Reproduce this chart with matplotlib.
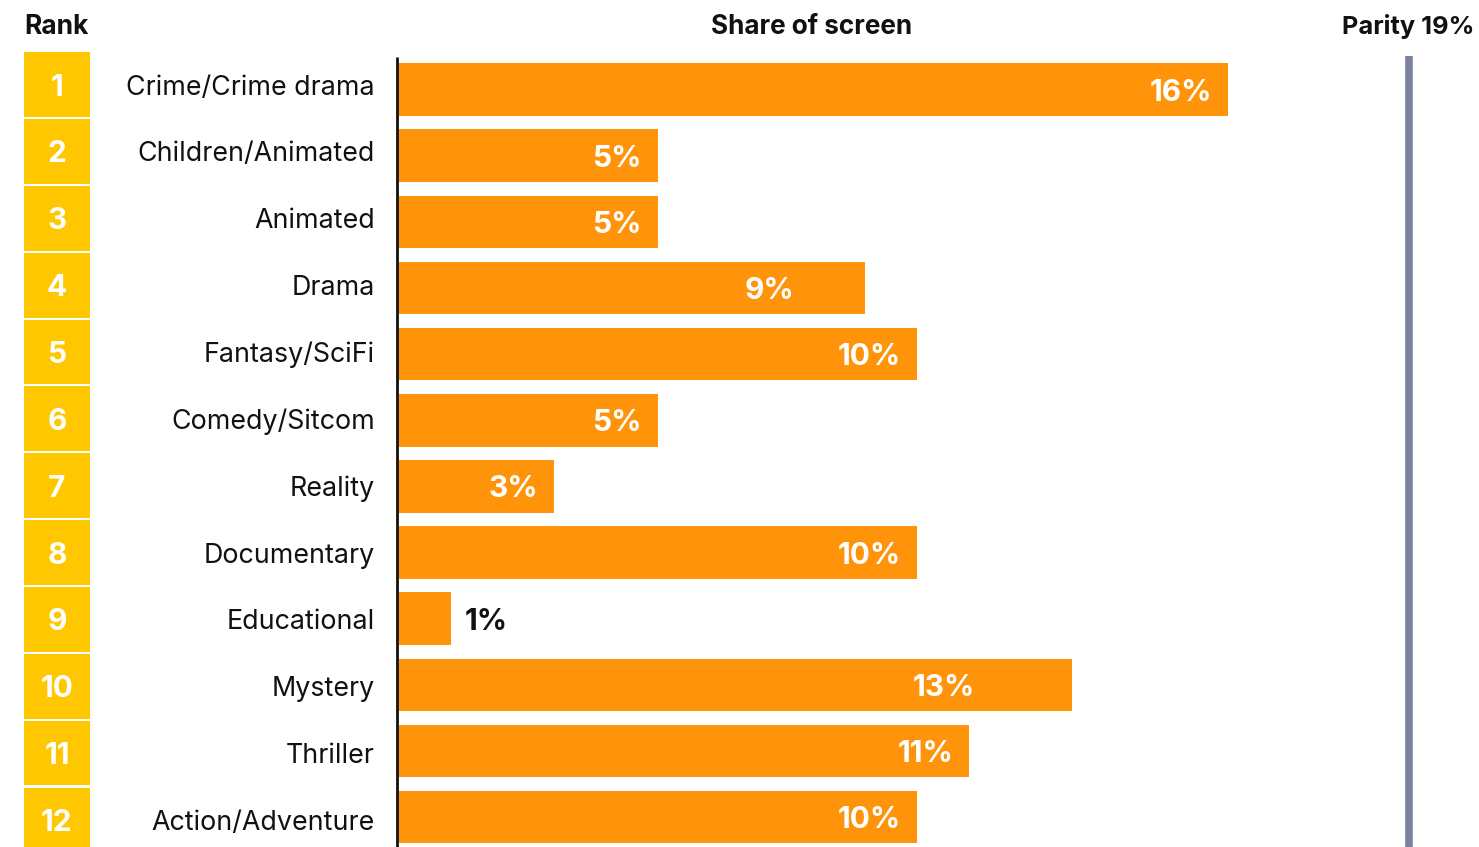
import matplotlib
matplotlib.use("Agg")
import matplotlib.pyplot as plt
from matplotlib.transforms import blended_transform_factory

plt.rcParams['font.family'] = ['Inter', 'DejaVu Sans']

ranks = ["1", "2", "3", "4", "5", "6", "7", "8", "9", "10", "11", "12"]
genres = ["Crime/Crime drama", "Children/Animated", "Animated", "Drama",
          "Fantasy/SciFi", "Comedy/Sitcom", "Reality", "Documentary",
          "Educational", "Mystery", "Thriller", "Action/Adventure"]
share = [16, 5, 5, 9, 10, 5, 3, 10, 1, 13, 11, 10]
value_labels = ["16%", "5%", "5%", "9%", "10%", "5%", "3%", "10%", "1%", "13%", "11%", "10%"]
parity_value = 19.5
parity_label = "Parity 19%"

W, H = 1479, 847
ORANGE = "#FF940A"
YELLOW = "#FFC700"
PARITY = "#7B829F"
INK = "#111111"

# label padding from bar end, in pixels (style)
label_pad_px = [16, 16, 16, 71, 16, 16, 16, 16, 14, 97, 15, 16]

fig = plt.figure(figsize=(W / 100, H / 100), dpi=100)


def px_rect(l, t, r, b):
    return [l / W, 1 - b / H, (r - l) / W, (b - t) / H]


rows = list(range(len(genres)))

# bars
ax = fig.add_axes(px_rect(399, 0, 1479, 847))
ax.set_xlim(0, 1080 / 51.8)
ax.set_ylim((847 - 89.5) / 66.15, -89.5 / 66.15)
ax.axis("off")
ax.barh(rows, share, height=0.794, color=ORANGE, left=0)
ax.axvline(-0.03, ymin=0, ymax=1 - 57 / H, color=INK, lw=2.0, clip_on=False,
           solid_capstyle="butt")
ax.axvline(parity_value, ymin=0, ymax=1 - 56 / H, color=PARITY, lw=5.5,
           solid_capstyle="butt")
for r, v, lab, pad in zip(rows, share, value_labels, label_pad_px):
    pad_pt = pad * 0.72
    if v >= 3:
        ax.annotate(lab, (v, r), xytext=(-pad_pt, 0), textcoords="offset points",
                    ha="right", va="center_baseline", color="white",
                    fontsize=21.5, fontweight="bold")
    else:
        ax.annotate(lab, (v, r), xytext=(pad_pt, 0), textcoords="offset points",
                    ha="left", va="center_baseline", color=INK,
                    fontsize=21.5, fontweight="bold")

# rank boxes
axr = fig.add_axes(px_rect(24, 0, 90, 847))
axr.set_xlim(0, 1)
axr.set_ylim((847 - 84.6) / 66.85, -84.6 / 66.85)
axr.axis("off")
axr.barh(rows, 1, height=0.968, left=0, color=YELLOW)
for r, rk in zip(rows, ranks):
    axr.text(0.5, r, rk, ha="center", va="center_baseline", color="white",
             fontsize=21.5, fontweight="bold")

tr = blended_transform_factory(fig.transFigure, axr.transData)
for r, g in zip(rows, genres):
    axr.text(375 / W, r, g, transform=tr, ha="right", va="center_baseline",
             color=INK, fontsize=19.3)

# headers
base_y = 1 - 34 / H
fig.text(24 / W, base_y, "Rank", ha="left", va="baseline",
         fontsize=19, fontweight="bold", color=INK)
fig.text(812 / W, base_y, "Share of screen", ha="center", va="baseline",
         fontsize=18.8, fontweight="bold", color=INK)
fig.text(1474 / W, base_y, parity_label, ha="right", va="baseline",
         fontsize=18.3, fontweight="bold", color=INK)

fig.savefig("out.png", dpi=100, facecolor="white")
